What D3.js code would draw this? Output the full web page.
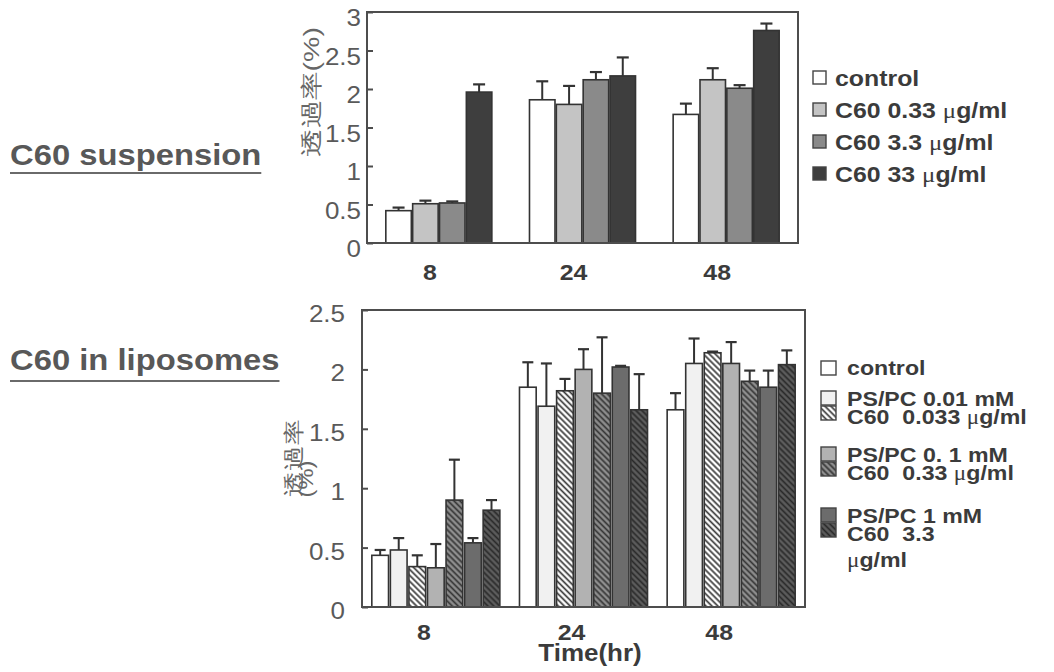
<!DOCTYPE html>
<html>
<head>
<meta charset="utf-8">
<script src="https://cdn.jsdelivr.net/npm/d3@7"></script>
<style>
  html, body { margin: 0; padding: 0; background: #fff; }
  svg { display: block; }
  text { font-family: "Liberation Sans", Arial, sans-serif; }
</style>
</head>
<body>
<div id="chart"></div>
<script>
// C60 permeation bars - suspension (top) and liposomes (bottom)
var hours = ['8', '24', '48']

var suspSeries = ['control', 'C60 0.33 μg/ml', 'C60 3.3 μg/ml', 'C60 33 μg/ml']
var suspMean = [
  [0.42, 0.51, 0.52, 1.96],
  [1.86, 1.80, 2.12, 2.17],
  [1.67, 2.12, 2.01, 2.76]
]
var suspSD = [
  [0.04, 0.04, 0.02, 0.10],
  [0.24, 0.24, 0.10, 0.24],
  [0.14, 0.15, 0.04, 0.09]
]
var suspTicks = [0, 0.5, 1, 1.5, 2, 2.5, 3]

var liposSeries = ['control', 'PS/PC 0.01 mM', 'C60  0.033 μg/ml', 'PS/PC 0. 1 mM',
  'C60  0.33 μg/ml', 'PS/PC 1 mM', 'C60  3.3\nμg/ml']
var liposMean = [
  [0.435, 0.48, 0.34, 0.33, 0.90, 0.54, 0.815],
  [1.85, 1.69, 1.82, 2.00, 1.80, 2.02, 1.66],
  [1.66, 2.05, 2.14, 2.05, 1.90, 1.85, 2.04]
]
var liposSD = [
  [0.045, 0.10, 0.095, 0.20, 0.34, 0.04, 0.085],
  [0.21, 0.36, 0.10, 0.17, 0.47, 0.01, 0.30],
  [0.14, 0.21, 0.01, 0.18, 0.09, 0.14, 0.12]
]
var liposTicks = [0, 0.5, 1, 1.5, 2, 2.5]
var liposRows = [[0], [1, 2], [3, 4], [5, 6]]

;(function() {
  var
    W = 1054,
    H = 672,
    K = 1.13,          // scan is a bit wider than tall
    FRAME = '#4d4d4d',
    INK = '#3b3b3b',
    SOFT = '#5a5a5a'

  var svg = d3.select('#chart').append('svg')
    .attr('width', W).attr('height', H)
    .attr('viewBox', '0 0 ' + W + ' ' + H)

  var defs = svg.append('defs')
  hatch('hatchLight', '#ffffff', '#3a3a3a')
  hatch('hatchMid', '#8e8e8e', '#363636')
  hatch('hatchDark', '#5c5c5c', '#2a2a2a')

  function hatch(id, bg, line) {
    var p = defs.append('pattern')
      .attr('id', id)
      .attr('patternUnits', 'userSpaceOnUse')
      .attr('width', 4.2).attr('height', 4.2)
      .attr('patternTransform', 'rotate(-45)')
    p.append('rect').attr('width', 4.2).attr('height', 4.2).attr('fill', bg)
    p.append('line')
      .attr('x1', 2.1).attr('x2', 2.1).attr('y1', 0).attr('y2', 4.2)
      .attr('stroke', line).attr('stroke-width', 1.7)
  }

  // text with mu in a serif face, squeezed wider like the scan
  function label(g, x, y, str, size, weight, fill, anchor) {
    var t = g.append('text')
      .attr('transform', 'translate(' + x + ',' + y + ') scale(' + K + ',1)')
      .attr('font-size', size)
      .attr('font-weight', weight)
      .attr('fill', fill)
      .attr('text-anchor', anchor || 'start')
      .style('white-space', 'pre')
    str.split('μ').forEach(function(part, i) {
      if (i > 0) {
        t.append('tspan')
          .attr('font-family', '"Liberation Serif", "DejaVu Serif", serif')
          .attr('font-weight', 'normal')
          .text('μ')
      }
      if (part) t.append('tspan').text(part)
    })
    return t
  }

  var suspFills = ['#ffffff', '#c4c4c4', '#8a8a8a', '#3e3e3e']
  var liposFills = ['#ffffff', '#f1f1f1', 'url(#hatchLight)', '#b2b2b2', 'url(#hatchMid)', '#6c6c6c', 'url(#hatchDark)']

  drawPanel({
    series: suspSeries, means: suspMean, sds: suspSD, ticks: suspTicks,
    box: { x0: 367, x1: 798, y0: 12, y1: 243 },
    fills: suspFills,
    groupPad: 0.262, barPad: 0.05, capW: 12,
    tickPad: 6, tickDy: '0.6em', xLabelY: 280, xLabelDx: -9
  })

  drawPanel({
    series: liposSeries, means: liposMean, sds: liposSD, ticks: liposTicks,
    box: { x0: 362, x1: 805, y0: 310, y1: 607 },
    fills: liposFills,
    groupPad: 0.133, barPad: 0.1, capW: 11,
    tickPad: 17, tickDy: '0.5em', xLabelY: 640, xLabelDx: -12
  })

  function drawPanel(cfg) {
    var b = cfg.box
    var g = svg.append('g')

    var x0 = d3.scaleBand().domain(hours).range([b.x0, b.x1])
      .paddingInner(cfg.groupPad).paddingOuter(cfg.groupPad / 2)
    var x1 = d3.scaleBand().domain(d3.range(cfg.series.length))
      .range([0, x0.bandwidth()]).paddingInner(cfg.barPad)
    var y = d3.scaleLinear().domain([0, d3.max(cfg.ticks)]).range([b.y1, b.y0])

    var groups = g.selectAll('.grp')
      .data(hours)
      .enter().append('g')
      .attr('class', 'grp')
      .attr('transform', function(h) { return 'translate(' + x0(h) + ',0)' })

    var cells = groups.selectAll('.cell')
      .data(function(h, i) {
        return cfg.series.map(function(s, j) {
          return { j: j, v: cfg.means[i][j], sd: cfg.sds[i][j] }
        })
      })
      .enter().append('g').attr('class', 'cell')

    cells.append('rect')
      .attr('x', function(d) { return x1(d.j) })
      .attr('y', function(d) { return y(d.v) })
      .attr('width', x1.bandwidth())
      .attr('height', function(d) { return y(0) - y(d.v) })
      .attr('fill', function(d) { return cfg.fills[d.j] })
      .attr('stroke', '#333').attr('stroke-width', 1.6)

    var err = function(d) { return x1(d.j) + x1.bandwidth() / 2 }
    cells.append('line')
      .attr('x1', err).attr('x2', err)
      .attr('y1', function(d) { return y(d.v) })
      .attr('y2', function(d) { return y(d.v + d.sd) })
      .attr('stroke', '#333').attr('stroke-width', 2)
    cells.append('line')
      .attr('x1', function(d) { return err(d) - cfg.capW / 2 })
      .attr('x2', function(d) { return err(d) + cfg.capW / 2 })
      .attr('y1', function(d) { return y(d.v + d.sd) })
      .attr('y2', function(d) { return y(d.v + d.sd) })
      .attr('stroke', '#333').attr('stroke-width', 2.2)

    // frame
    g.append('rect')
      .attr('x', b.x0).attr('y', b.y0)
      .attr('width', b.x1 - b.x0).attr('height', b.y1 - b.y0)
      .attr('fill', 'none').attr('stroke', FRAME).attr('stroke-width', 2)

    var axis = g.append('g')
      .attr('transform', 'translate(' + b.x0 + ',0)')
      .call(d3.axisLeft(y).tickValues(cfg.ticks).tickFormat(d3.format(''))
        .tickSizeInner(-6).tickSizeOuter(0).tickPadding(cfg.tickPad))
    axis.select('.domain').remove()
    axis.selectAll('.tick line').attr('stroke', FRAME).attr('stroke-width', 2)
    axis.selectAll('.tick text')
      .attr('font-size', 23)
      .attr('font-family', '"Liberation Sans", Arial, sans-serif')
      .attr('fill', SOFT)
      .attr('dy', cfg.tickDy)
      .attr('x', -cfg.tickPad / K)
      .attr('transform', 'scale(' + K + ',1)')

    hours.forEach(function(h) {
      label(g, x0(h) + x0.bandwidth() / 2 + cfg.xLabelDx, cfg.xLabelY, h, 22, 'bold', INK, 'middle')
    })
  }

  // axis titles, read bottom to top
  function vtitle(x, y, str, size, len, font) {
    svg.append('text')
      .attr('transform', 'translate(' + x + ',' + y + ') rotate(-90)')
      .attr('font-family', font)
      .attr('font-size', size).attr('fill', '#666')
      .attr('text-anchor', 'middle').attr('dy', '0.36em')
      .attr('textLength', len).attr('lengthAdjust', 'spacingAndGlyphs')
      .text(str)
  }
  vtitle(311, 92, '透過率(%)', 22, 130, '"Noto Sans CJK JP", sans-serif')
  vtitle(293, 458, '透過率', 21, 77, '"Noto Sans CJK JP", sans-serif')
  vtitle(306, 479, '(%)', 20, 37, '"Liberation Sans", Arial, sans-serif')

  label(svg, 590, 661, 'Time(hr)', 23, 'bold', INK, 'middle')

  // panel names, underlined
  ;[['C60 suspension', 165, 8], ['C60 in liposomes', 370, 11]].forEach(function(p) {
    var t = label(svg, 10, p[1], p[0], 29, 'bold', '#585858')
    var w = t.node().getComputedTextLength() * K
    svg.append('line')
      .attr('x1', 10).attr('x2', 10 + w)
      .attr('y1', p[1] + p[2]).attr('y2', p[1] + p[2])
      .attr('stroke', '#6a6a6a').attr('stroke-width', 2)
  })

  // top legend
  var legTop = svg.append('g')
  suspSeries.forEach(function(s, j) {
    var cy = 78 + j * 32
    legTop.append('rect')
      .attr('x', 813).attr('y', cy - 7).attr('width', 13).attr('height', 13)
      .attr('fill', suspFills[j])
      .attr('stroke', '#444').attr('stroke-width', 1.4)
    label(legTop, 835, cy + 8, s, 22, 'bold', INK)
  })

  // bottom legend, paired swatches per row
  var legBot = svg.append('g')
  var rowY = [368, 399, 455, 516]
  liposRows.forEach(function(row, r) {
    var cy = rowY[r]
    row.forEach(function(j, k) {
      legBot.append('rect')
        .attr('x', 821).attr('y', row.length > 1 ? cy - 8 + k * 15 : cy - 7)
        .attr('width', 15).attr('height', 14)
        .attr('fill', liposFills[j])
        .attr('stroke', '#444').attr('stroke-width', 1.4)
      var lines = liposSeries[j].split('\n')
      lines.forEach(function(line, n) {
        label(legBot, 847, cy + k * 18 + n * 26 + 7, line, 20.5, 'bold', INK)
      })
    })
  })
})()
</script>
</body>
</html>
